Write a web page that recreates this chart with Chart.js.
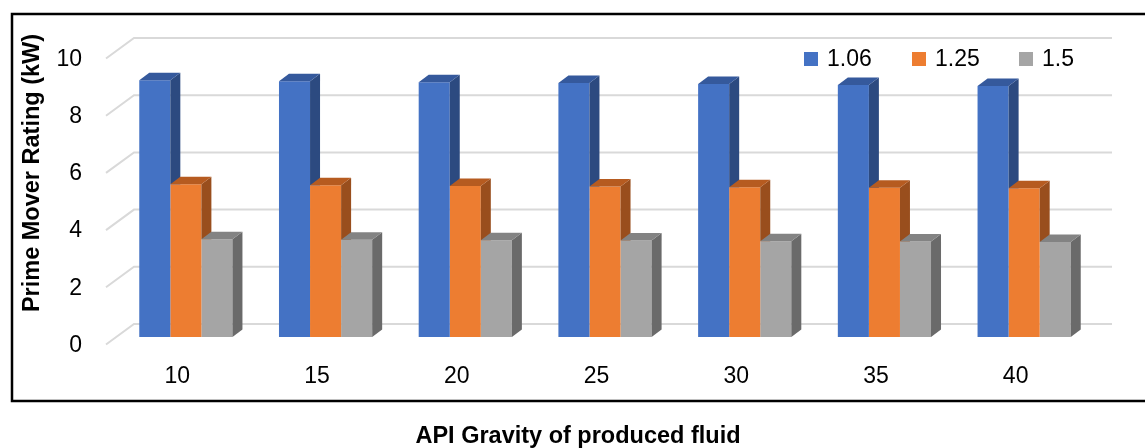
<!DOCTYPE html>
<html>
<head>
<meta charset="utf-8">
<script src="https://cdn.jsdelivr.net/npm/chart.js@4.4.1/dist/chart.umd.min.js"></script>
<style>
  html, body { margin: 0; padding: 0; background: #fff; }
  #chart { display: block; }
</style>
</head>
<body>
<canvas id="chart" width="1145" height="448"></canvas>
<script>
const categories = ["10", "15", "20", "25", "30", "35", "40"];
const seriesNames = ["1.06", "1.25", "1.5"];
const values106 = [8.98, 8.94, 8.91, 8.88, 8.85, 8.81, 8.78];
const values125 = [5.34, 5.31, 5.28, 5.26, 5.24, 5.22, 5.20];
const values15 = [3.42, 3.40, 3.38, 3.37, 3.35, 3.34, 3.32];
const yTicks = [0, 2, 4, 6, 8, 10];

const frontColors = ["#4472C4", "#ED7D31", "#A5A5A5"];
const topColors = ["#35599C", "#B65B20", "#838383"];
const sideColors = ["#2C4A80", "#994E1D", "#6A6A6A"];

// offsets of the fake 3d planes, relative to the bars' front plane
const backWall = { x: 18, y: -13 };
const frontFloor = { x: -10, y: 7.5 };
const barDepth = { x: 10, y: -7.5 };

const tickFont = "23px 'Liberation Sans', Arial, sans-serif";
const titleFont = "bold 23.5px 'Liberation Sans', Arial, sans-serif";

const fake3d = {
    id: "fake3d",
    beforeDatasetsDraw(chart) {
        const ctx = chart.ctx;
        const { left, right } = chart.chartArea;
        const xs = chart.scales.x;
        const ys = chart.scales.y;

        // grid on back wall and floor edge
        ctx.save();
        ctx.strokeStyle = "#D9D9D9";
        ctx.lineWidth = 2;
        yTicks.forEach(v => {
            const y = ys.getPixelForValue(v);
            ctx.beginPath();
            ctx.moveTo(left + frontFloor.x, y + frontFloor.y);
            ctx.lineTo(left + backWall.x, y + backWall.y);
            ctx.lineTo(right + backWall.x, y + backWall.y);
            ctx.stroke();
        });

        ctx.fillStyle = "#000";
        ctx.font = tickFont;
        ctx.textAlign = "right";
        ctx.textBaseline = "middle";
        yTicks.forEach(v => {
            ctx.fillText(String(v), 82, ys.getPixelForValue(v) + frontFloor.y + 1);
        });

        ctx.textAlign = "center";
        const labelY = ys.getPixelForValue(0) + 40;
        categories.forEach((c, i) => {
            ctx.fillText(c, xs.getPixelForValue(i) - 8.5, labelY);
        });

        // legend
        const legendX = [804, 912, 1019];
        chart.data.datasets.forEach((ds, i) => {
            ctx.fillStyle = ds.backgroundColor;
            ctx.fillRect(legendX[i], 52, 14, 14);
            ctx.fillStyle = "#000";
            ctx.textAlign = "left";
            ctx.fillText(ds.label, legendX[i] + 23, 60);
        });
        ctx.restore();
    },
    afterDatasetsDraw(chart) {
        const ctx = chart.ctx;
        const metas = chart.data.datasets.map((d, i) => chart.getDatasetMeta(i));
        ctx.save();
        categories.forEach((c, idx) => {
            metas.forEach((meta, d) => {
                const bar = meta.data[idx];
                const w = bar.width;
                const l = bar.x - w / 2;
                const r = bar.x + w / 2;
                const next = metas[d + 1] ? metas[d + 1].data[idx] : null;

                ctx.save();
                if (next) {
                    ctx.beginPath();
                    ctx.rect(r - 1, 0, barDepth.x + 3, next.y);
                    ctx.clip();
                }
                ctx.fillStyle = sideColors[d];
                ctx.beginPath();
                ctx.moveTo(r, bar.y);
                ctx.lineTo(r + barDepth.x, bar.y + barDepth.y);
                ctx.lineTo(r + barDepth.x, bar.base + barDepth.y);
                ctx.lineTo(r, bar.base);
                ctx.closePath();
                ctx.fill();
                ctx.restore();

                ctx.fillStyle = topColors[d];
                ctx.beginPath();
                ctx.moveTo(l, bar.y);
                ctx.lineTo(l + barDepth.x, bar.y + barDepth.y);
                ctx.lineTo(r + barDepth.x, bar.y + barDepth.y);
                ctx.lineTo(r, bar.y);
                ctx.closePath();
                ctx.fill();
            });
        });
        ctx.restore();
    },
    afterDraw(chart) {
        const ctx = chart.ctx;
        ctx.save();
        ctx.fillStyle = "#000";
        ctx.font = titleFont;
        ctx.textAlign = "center";
        ctx.textBaseline = "alphabetic";
        ctx.fillText("API Gravity of produced fluid", 578, 443);

        ctx.translate(38.5, 173);
        ctx.rotate(-Math.PI / 2);
        ctx.fillText("Prime Mover Rating (kW)", 0, 0);
        ctx.restore();

        // frame (right side runs off the picture)
        ctx.save();
        ctx.strokeStyle = "#000";
        ctx.lineWidth = 2.5;
        ctx.beginPath();
        ctx.moveTo(1150, 14);
        ctx.lineTo(12, 14);
        ctx.lineTo(12, 401);
        ctx.lineTo(1150, 401);
        ctx.stroke();
        ctx.restore();
    }
};

new Chart(document.getElementById("chart"), {
    type: "bar",
    data: {
        labels: categories,
        datasets: [
            { label: seriesNames[0], data: values106, backgroundColor: frontColors[0] },
            { label: seriesNames[1], data: values125, backgroundColor: frontColors[1] },
            { label: seriesNames[2], data: values15, backgroundColor: frontColors[2] }
        ]
    },
    options: {
        responsive: false,
        animation: false,
        devicePixelRatio: 1,
        layout: { padding: { left: 116, right: 51, top: 51, bottom: 111 } },
        datasets: { bar: { barPercentage: 1, categoryPercentage: 0.667 } },
        scales: {
            x: { display: false },
            y: { display: false, min: 0, max: 10 }
        },
        plugins: {
            legend: { display: false },
            tooltip: { enabled: false }
        }
    },
    plugins: [fake3d]
});
</script>
</body>
</html>
